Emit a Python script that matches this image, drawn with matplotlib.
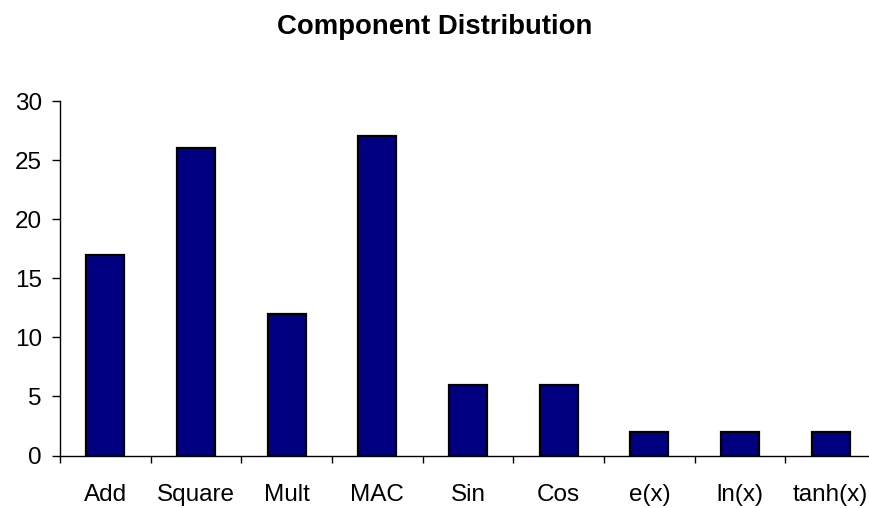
import matplotlib
matplotlib.use("Agg")
import matplotlib.pyplot as plt
import numpy as np

plt.rcParams['font.family'] = ['Liberation Sans', 'DejaVu Sans']

categories = ["Add", "Square", "Mult", "MAC", "Sin", "Cos", "e(x)", "ln(x)", "tanh(x)"]
counts = [17, 26, 12, 27, 6, 6, 2, 2, 2]
y_ticks = [0, 5, 10, 15, 20, 25, 30]

fig = plt.figure(figsize=(8.69, 5.08), dpi=100)
ax = fig.add_axes([60 / 869, 52.5 / 508, 816 / 869, 354.5 / 508])

x = np.arange(len(categories))
ax.bar(x, counts, width=0.42, color="#000080", edgecolor="black", linewidth=1.6, zorder=3)

ax.set_xlim(-0.5, len(categories) - 0.5)
ax.set_ylim(0, 30)
ax.set_yticks(y_ticks)
ax.tick_params(axis="y", direction="out", length=6, width=1, labelsize=17.5, pad=7)

ax.set_xticks(x)
ax.set_xticklabels(categories)
ax.tick_params(axis="x", which="major", length=0, labelsize=17.5, pad=20.5)
ax.set_xticks(np.arange(len(categories) + 1) - 0.5, minor=True)
ax.tick_params(axis="x", which="minor", direction="out", length=5, width=1)

for side in ("top", "right"):
    ax.spines[side].set_visible(False)
for side in ("left", "bottom"):
    ax.spines[side].set_linewidth(1)

fig.text(0.5, 1 - 34 / 508, "Component Distribution", ha="center", va="baseline",
         fontsize=19.8, fontweight="bold")

fig.savefig("out.png", dpi=100)
